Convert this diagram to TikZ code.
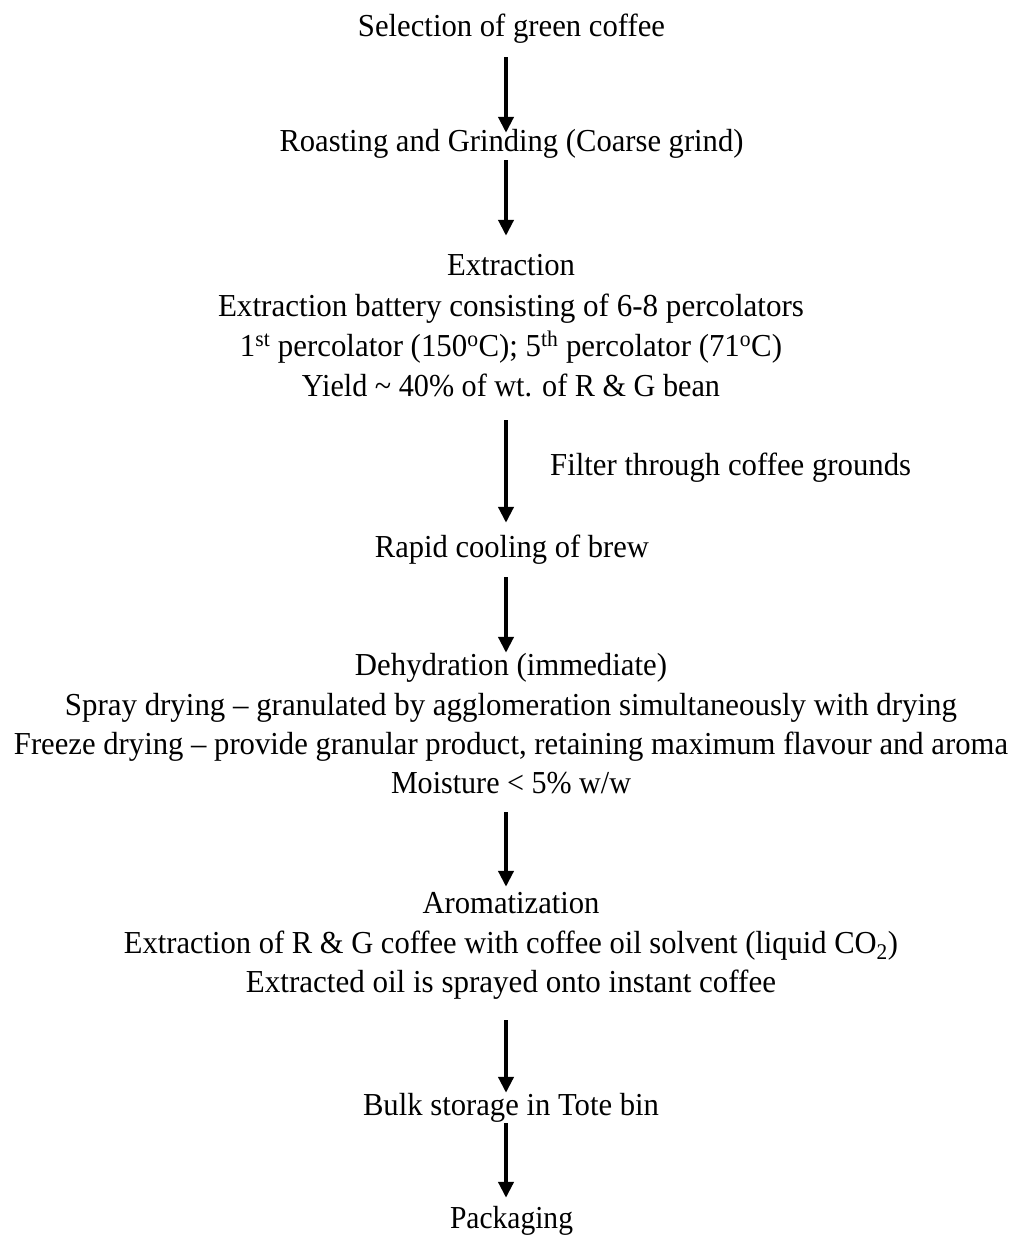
\documentclass[tikz,border=0pt]{standalone}
\usepackage{fontspec}
\setmainfont{Liberation Serif}
\usepackage{graphicx}
\usetikzlibrary{arrows.meta}
\newcommand{\fitto}[2]{\resizebox{#1pt}{\height}{#2}}
\tikzset{
  txtline/.style={anchor=base, inner sep=0pt, text height=22pt, text depth=7pt,
    text=black, font=\fontsize{32}{38}\selectfont},
  flow/.style={line width=4pt, black, -{Triangle[width=15pt,length=16pt]}},
  sh/.style 2 args={shorten <=#1pt, shorten >=#2pt}
}
\begin{document}
\begin{tikzpicture}[x=1pt,y=-1pt]
\useasboundingbox[fill=white] (0,0) rectangle (1016,1241);
\coordinate (ax) at (506,0);
\node[txtline] (sel) at (511.5,37) {\fitto{307}{Selection of green coffee}};
\node[txtline] (rost) at (511.5,152) {\fitto{464}{Roasting and Grinding (Coarse grind)}};
\node[txtline] (ext) at (511,276) {\fitto{128}{Extraction}};
\node[txtline] (ext2) at (511,316) {\fitto{586}{Extraction battery consisting of 6-8 percolators}};
\node[txtline] (ext3) at (511,356) {\fitto{542}{1\textsuperscript{st} percolator (150\textsuperscript{o}C); 5\textsuperscript{th} percolator (71\textsuperscript{o}C)}};
\node[txtline] (ext4) at (511,396) {\fitto{418}{Yield \textasciitilde{} 40\% of wt. of R \& G bean}};
\node[txtline, anchor=base west] (filt) at (550,475) {\fitto{361}{Filter through coffee grounds}};
\node[txtline] (cool) at (512,557) {\fitto{274}{Rapid cooling of brew}};
\node[txtline] (dehy) at (511,675) {\fitto{312}{Dehydration (immediate)}};
\node[txtline] (spray) at (511,715) {\fitto{892}{Spray drying – granulated by agglomeration simultaneously with drying}};
\node[txtline] (freeze) at (511,754) {\fitto{994}{Freeze drying – provide granular product, retaining maximum flavour and aroma}};
\node[txtline] (moist) at (511,793) {\fitto{240}{Moisture < 5\% w/w}};
\node[txtline] (arom) at (511,913) {\fitto{177}{Aromatization}};
\node[txtline] (arom2) at (511,953) {\fitto{774}{Extraction of R \& G coffee with coffee oil solvent (liquid CO\textsubscript{2})}};
\node[txtline] (arom3) at (511,992) {\fitto{530}{Extracted oil is sprayed onto instant coffee}};
\node[txtline] (bulk) at (511,1115) {\fitto{296}{Bulk storage in Tote bin}};
\node[txtline] (pack) at (511.5,1228) {\fitto{123}{Packaging}};
\draw[flow, sh={13}{-3}] (sel.south -| ax) -- (rost.north -| ax);
\draw[flow, sh={1}{18}] (rost.south -| ax) -- (ext.north -| ax);
\draw[flow, sh={17}{12}] (ext4.south -| ax) -- (cool.north -| ax);
\draw[flow, sh={13}{0}] (cool.south -| ax) -- (dehy.north -| ax);
\draw[flow, sh={12}{4}] (moist.south -| ax) -- (arom.north -| ax);
\draw[flow, sh={21}{0}] (arom3.south -| ax) -- (bulk.north -| ax);
\draw[flow, sh={1}{8}] (bulk.south -| ax) -- (pack.north -| ax);
\end{tikzpicture}
\end{document}
